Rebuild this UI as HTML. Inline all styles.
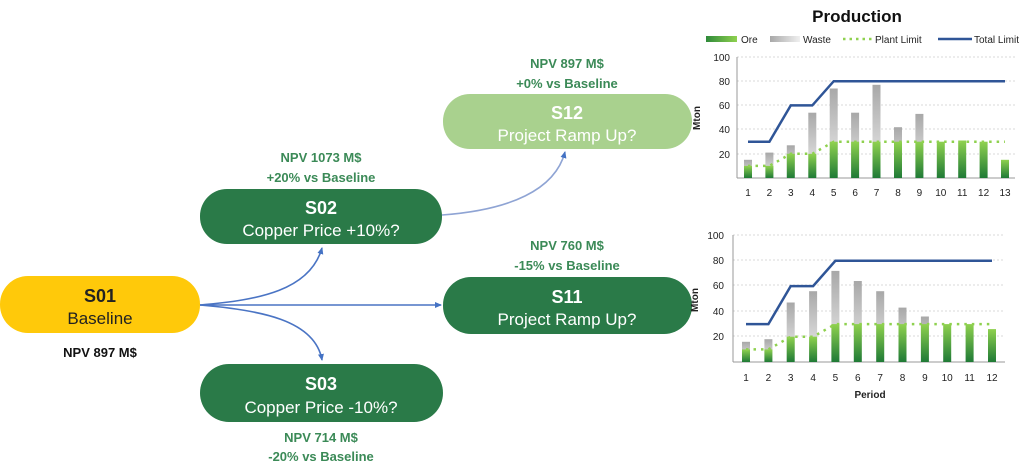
<!DOCTYPE html>
<html><head><meta charset="utf-8"><style>
body{margin:0;width:1024px;height:471px;background:#fff;overflow:hidden;font-family:"Liberation Sans",sans-serif}
</style></head><body>
<svg width="1024" height="471" viewBox="0 0 1024 471" xmlns="http://www.w3.org/2000/svg" font-family="Liberation Sans, sans-serif">
<defs>
<linearGradient id="ore" x1="0" y1="0" x2="0" y2="1"><stop offset="0" stop-color="#8fd14f"/><stop offset="1" stop-color="#1f7a36"/></linearGradient>
<linearGradient id="waste" x1="0" y1="0" x2="0" y2="1"><stop offset="0" stop-color="#a8a8a8"/><stop offset="1" stop-color="#f0f0f0"/></linearGradient>
<linearGradient id="oreh" x1="0" y1="0" x2="1" y2="0"><stop offset="0" stop-color="#2f8a3a"/><stop offset="1" stop-color="#8fd14f"/></linearGradient>
<linearGradient id="wasteh" x1="0" y1="0" x2="1" y2="0"><stop offset="0" stop-color="#a8a8a8"/><stop offset="1" stop-color="#f0f0f0"/></linearGradient>
<marker id="ar" markerWidth="8" markerHeight="8" refX="6" refY="4" orient="auto" markerUnits="userSpaceOnUse"><path d="M0,1 L7,4 L0,7 z" fill="#4472c4"/></marker>
</defs>

<!-- connectors -->
<g fill="none" stroke="#4a74c4" stroke-width="1.6">
<path d="M200,305 C260,300 310,290 322,248" marker-end="url(#ar)"/>
<path d="M200,305 L441,305" marker-end="url(#ar)"/>
<path d="M200,305 C260,310 315,320 322,360" marker-end="url(#ar)"/>
<path d="M442,215 C510,210 555,190 565,152" stroke="#8fa4d4" marker-end="url(#ar)"/>
</g>

<!-- nodes -->
<rect x="0" y="276" width="200" height="57" rx="28" fill="#ffc90a"/>
<text x="100" y="302" text-anchor="middle" font-size="18" font-weight="bold" fill="#222">S01</text>
<text x="100" y="324" text-anchor="middle" font-size="17" fill="#222">Baseline</text>
<text x="100" y="357" text-anchor="middle" font-size="13" font-weight="bold" fill="#111">NPV 897 M$</text>

<rect x="200" y="189" width="242" height="55" rx="27" fill="#2a7a48"/>
<text x="321" y="214" text-anchor="middle" font-size="18" font-weight="bold" fill="#fff">S02</text>
<text x="321" y="236" text-anchor="middle" font-size="17" fill="#fff">Copper Price +10%?</text>
<text x="321" y="162" text-anchor="middle" font-size="13" font-weight="bold" fill="#3b8a57">NPV 1073 M$</text>
<text x="321" y="182" text-anchor="middle" font-size="13" font-weight="bold" fill="#3b8a57">+20% vs Baseline</text>

<rect x="443" y="94" width="249" height="55" rx="27" fill="#a9d18e"/>
<text x="567" y="119" text-anchor="middle" font-size="18" font-weight="bold" fill="#fff">S12</text>
<text x="567" y="141" text-anchor="middle" font-size="17" fill="#fff">Project Ramp Up?</text>
<text x="567" y="68" text-anchor="middle" font-size="13" font-weight="bold" fill="#3b8a57">NPV 897 M$</text>
<text x="567" y="88" text-anchor="middle" font-size="13" font-weight="bold" fill="#3b8a57">+0% vs Baseline</text>

<rect x="443" y="277" width="249" height="57" rx="28" fill="#2a7a48"/>
<text x="567" y="303" text-anchor="middle" font-size="18" font-weight="bold" fill="#fff">S11</text>
<text x="567" y="325" text-anchor="middle" font-size="17" fill="#fff">Project Ramp Up?</text>
<text x="567" y="250" text-anchor="middle" font-size="13" font-weight="bold" fill="#3b8a57">NPV 760 M$</text>
<text x="567" y="270" text-anchor="middle" font-size="13" font-weight="bold" fill="#3b8a57">-15% vs Baseline</text>

<rect x="200" y="364" width="243" height="58" rx="29" fill="#2a7a48"/>
<text x="321" y="390" text-anchor="middle" font-size="18" font-weight="bold" fill="#fff">S03</text>
<text x="321" y="413" text-anchor="middle" font-size="17" fill="#fff">Copper Price -10%?</text>
<text x="321" y="442" text-anchor="middle" font-size="13" font-weight="bold" fill="#3b8a57">NPV 714 M$</text>
<text x="321" y="461" text-anchor="middle" font-size="13" font-weight="bold" fill="#3b8a57">-20% vs Baseline</text>

<!-- chart title & legend -->
<text x="857" y="22" text-anchor="middle" font-size="17" font-weight="bold" fill="#111">Production</text>
<rect x="706" y="36" width="31" height="6" fill="url(#oreh)"/>
<text x="741" y="43" font-size="10" fill="#222">Ore</text>
<rect x="770" y="36" width="30" height="6" fill="url(#wasteh)"/>
<text x="803" y="43" font-size="10" fill="#222">Waste</text>
<line x1="843" y1="39" x2="872" y2="39" stroke="#8fd14f" stroke-width="2.5" stroke-dasharray="2.5,4"/>
<text x="875" y="43" font-size="10" fill="#222">Plant Limit</text>
<line x1="938" y1="39" x2="972" y2="39" stroke="#2f5597" stroke-width="2.5"/>
<text x="974" y="43" font-size="10" fill="#222">Total Limit</text>

<!-- chart 1 -->
<g stroke="#ccc" stroke-width="0.8" stroke-dasharray="2,2">
<line x1="737" y1="57" x2="1015" y2="57"/><line x1="737" y1="81" x2="1015" y2="81"/><line x1="737" y1="105" x2="1015" y2="105"/><line x1="737" y1="129" x2="1015" y2="129"/><line x1="737" y1="154" x2="1015" y2="154"/>
</g>
<line x1="737" y1="57" x2="737" y2="178" stroke="#999"/>
<line x1="737" y1="178" x2="1015" y2="178" stroke="#999"/>
<g font-size="10" fill="#222" text-anchor="end">
<text x="730" y="61">100</text><text x="730" y="85">80</text><text x="730" y="109">60</text><text x="730" y="133">40</text><text x="730" y="158">20</text>
</g>
<text transform="translate(700,118) rotate(-90)" text-anchor="middle" font-size="10" font-weight="bold" fill="#222">Mton</text>
<g fill="url(#waste)">
<rect x="744" y="159.8" width="8" height="18.2"/><rect x="765.4" y="152.6" width="8" height="25.4"/><rect x="786.8" y="145.3" width="8" height="32.7"/><rect x="808.3" y="112.7" width="8" height="65.3"/><rect x="829.7" y="88.5" width="8" height="89.5"/><rect x="851.1" y="112.7" width="8" height="65.3"/><rect x="872.5" y="84.8" width="8" height="93.2"/><rect x="894" y="127.2" width="8" height="50.8"/><rect x="915.4" y="113.9" width="8" height="64.1"/>
</g>
<g fill="url(#ore)">
<rect x="744" y="165.9" width="8" height="12.1"/><rect x="765.4" y="165.9" width="8" height="12.1"/><rect x="786.8" y="153.8" width="8" height="24.2"/><rect x="808.3" y="153.8" width="8" height="24.2"/><rect x="829.7" y="141.7" width="8" height="36.3"/><rect x="851.1" y="141.7" width="8" height="36.3"/><rect x="872.5" y="141.7" width="8" height="36.3"/><rect x="894" y="141.7" width="8" height="36.3"/><rect x="915.4" y="141.7" width="8" height="36.3"/><rect x="936.8" y="141.7" width="8" height="36.3"/><rect x="958.2" y="140.5" width="8" height="37.5"/><rect x="979.6" y="141.7" width="8" height="36.3"/><rect x="1001" y="159.8" width="8" height="18.2"/>
</g>
<polyline points="748,141.7 769.4,141.7 790.8,105.4 812.3,105.4 833.7,81.2 1005,81.2" fill="none" stroke="#2f5597" stroke-width="2.5"/>
<polyline points="748,165.9 769.4,165.9 790.8,153.8 812.3,153.8 833.7,141.7 1005,141.7" fill="none" stroke="#8fd14f" stroke-width="2.5" stroke-dasharray="2.5,5"/>
<g font-size="10" fill="#222" text-anchor="middle">
<text x="748" y="196">1</text><text x="769.4" y="196">2</text><text x="790.8" y="196">3</text><text x="812.3" y="196">4</text><text x="833.7" y="196">5</text><text x="855.1" y="196">6</text><text x="876.5" y="196">7</text><text x="898" y="196">8</text><text x="919.4" y="196">9</text><text x="940.8" y="196">10</text><text x="962.2" y="196">11</text><text x="983.6" y="196">12</text><text x="1005" y="196">13</text>
</g>

<!-- chart 2 -->
<g stroke="#ccc" stroke-width="0.8" stroke-dasharray="2,2">
<line x1="733" y1="235" x2="1005" y2="235"/><line x1="733" y1="260" x2="1005" y2="260"/><line x1="733" y1="285" x2="1005" y2="285"/><line x1="733" y1="311" x2="1005" y2="311"/><line x1="733" y1="336" x2="1005" y2="336"/>
</g>
<line x1="733" y1="235" x2="733" y2="362" stroke="#999"/>
<line x1="733" y1="362" x2="1005" y2="362" stroke="#999"/>
<g font-size="10" fill="#222" text-anchor="end">
<text x="724" y="239">100</text><text x="724" y="264">80</text><text x="724" y="289">60</text><text x="724" y="315">40</text><text x="724" y="340">20</text>
</g>
<text transform="translate(698,300) rotate(-90)" text-anchor="middle" font-size="10" font-weight="bold" fill="#222">Mton</text>
<g fill="url(#waste)">
<rect x="742" y="341.8" width="8" height="20.2"/><rect x="764.4" y="339.2" width="8" height="22.8"/><rect x="786.7" y="302.5" width="8" height="59.5"/><rect x="809.1" y="291.2" width="8" height="70.8"/><rect x="831.4" y="270.9" width="8" height="91.1"/><rect x="853.8" y="281" width="8" height="81"/><rect x="876.2" y="291.2" width="8" height="70.8"/><rect x="898.5" y="307.6" width="8" height="54.4"/><rect x="920.9" y="316.5" width="8" height="45.5"/>
</g>
<g fill="url(#ore)">
<rect x="742" y="349.4" width="8" height="12.6"/><rect x="764.4" y="349.4" width="8" height="12.6"/><rect x="786.7" y="336.7" width="8" height="25.3"/><rect x="809.1" y="336.7" width="8" height="25.3"/><rect x="831.4" y="324.1" width="8" height="37.9"/><rect x="853.8" y="324.1" width="8" height="37.9"/><rect x="876.2" y="324.1" width="8" height="37.9"/><rect x="898.5" y="324.1" width="8" height="37.9"/><rect x="920.9" y="324.1" width="8" height="37.9"/><rect x="943.2" y="324.1" width="8" height="37.9"/><rect x="965.6" y="324.1" width="8" height="37.9"/><rect x="988" y="329.1" width="8" height="32.9"/>
</g>
<polyline points="746,324.1 768.4,324.1 790.7,286.1 813.1,286.1 835.4,260.8 992,260.8" fill="none" stroke="#2f5597" stroke-width="2.5"/>
<polyline points="746,349.4 768.4,349.4 790.7,336.7 813.1,336.7 835.4,324.1 992,324.1" fill="none" stroke="#8fd14f" stroke-width="2.5" stroke-dasharray="2.5,5"/>
<g font-size="10" fill="#222" text-anchor="middle">
<text x="746" y="381">1</text><text x="768.4" y="381">2</text><text x="790.7" y="381">3</text><text x="813.1" y="381">4</text><text x="835.4" y="381">5</text><text x="857.8" y="381">6</text><text x="880.2" y="381">7</text><text x="902.5" y="381">8</text><text x="924.9" y="381">9</text><text x="947.2" y="381">10</text><text x="969.6" y="381">11</text><text x="992" y="381">12</text>
</g>
<text x="870" y="398" text-anchor="middle" font-size="10" font-weight="bold" fill="#222">Period</text>
</svg>
</body></html>
